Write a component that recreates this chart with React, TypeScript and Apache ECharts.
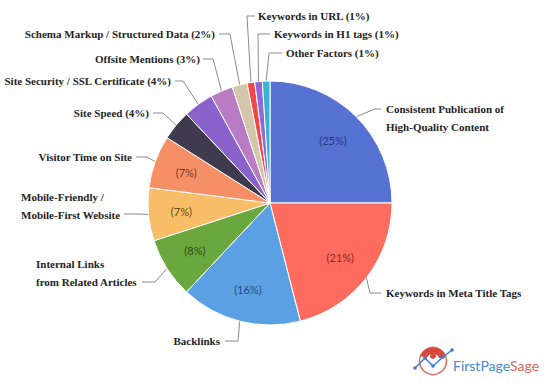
import React, { useEffect, useRef } from "react";
import * as echarts from "echarts";

const categories = [
  "Consistent Publication of\nHigh-Quality Content",
  "Keywords in Meta Title Tags",
  "Backlinks",
  "Internal Links\nfrom Related Articles",
  "Mobile-Friendly /\nMobile-First Website",
  "Visitor Time on Site",
  "Site Speed (4%)",
  "Site Security / SSL Certificate (4%)",
  "Offsite Mentions (3%)",
  "Schema Markup / Structured Data (2%)",
  "Keywords in URL (1%)",
  "Keywords in H1 tags (1%)",
  "Other Factors (1%)",
];
const values = [25, 21, 16, 8, 7, 7, 4, 4, 3, 2, 1, 1, 1];
const innerLabels = ["(25%)", "(21%)", "(16%)", "(8%)", "(7%)", "(7%)", "", "", "", "", "", "", ""];

const sliceColors = [
  "#5672d2", "#fe6b5f", "#5aa0e3", "#6aa83f", "#f8bd67", "#f68f66", "#3f3a4d",
  "#8a62cc", "#b77cc3", "#d3c6ab", "#f04645", "#8f6ad6", "#3ab2d1",
];
const innerTextColors = ["#23387f", "#8b2a22", "#1f4e85", "#2e4b12", "#6b4a17", "#7a3a20"];

// label layout: text anchor, alignment, leader elbow & end
const labelPos: { x: number; y: number; align: string; elbow: number[]; end: number[] }[] = [
  { x: 386, y: 118, align: "left", elbow: [375, 109], end: [381, 109] },
  { x: 386, y: 293, align: "left", elbow: [370, 293], end: [381, 293] },
  { x: 220, y: 341, align: "right", elbow: [238, 341], end: [225, 341] },
  { x: 36, y: 273, align: "left", elbow: [155, 282], end: [142, 282] },
  { x: 21, y: 206, align: "left", elbow: [140, 214], end: [124, 214] },
  { x: 132, y: 157, align: "right", elbow: [147, 157], end: [136, 157] },
  { x: 149, y: 113, align: "right", elbow: [163, 113], end: [153, 113] },
  { x: 171, y: 81, align: "right", elbow: [183, 81], end: [175, 81] },
  { x: 200, y: 59, align: "right", elbow: [213, 59], end: [203, 59] },
  { x: 215, y: 34, align: "right", elbow: [230, 34], end: [219, 34] },
  { x: 258, y: 16, align: "left", elbow: [247, 16], end: [255, 16] },
  { x: 274, y: 34, align: "left", elbow: [258, 34], end: [270, 34] },
  { x: 286, y: 53, align: "left", elbow: [269, 53], end: [282, 53] },
];

export default function App() {
  const ref = useRef<HTMLDivElement>(null);
  useEffect(() => {
    if (!ref.current) return;
    const chart = echarts.init(ref.current, null, { renderer: "svg" });
    const center = [270, 203];
    const R = 122;
    chart.setOption({
      animation: false,
      backgroundColor: "#ffffff",
      series: [
        {
          type: "pie",
          center,
          radius: [0, R],
          startAngle: 90,
          clockwise: true,
          silent: true,
          itemStyle: { borderColor: "#ffffff", borderWidth: 1 },
          label: {
            show: true,
            position: "outside",
            overflow: "none",
            fontFamily: "Liberation Serif",
            fontWeight: "bold",
            fontSize: 11,
            color: "#242424",
            lineHeight: 18,
          },
          labelLine: { show: true, lineStyle: { color: "#8a8a8a", width: 1 } },
          labelLayout: (params: any) => {
            const p = labelPos[params.dataIndex];
            const pts = params.labelLinePoints;
            const start = pts ? pts[0] : p.elbow;
            return {
              x: p.x,
              y: p.y,
              align: p.align,
              verticalAlign: "middle",
              labelLinePoints: [start, p.elbow, p.end],
            };
          },
          data: categories.map((name, i) => ({
            name,
            value: values[i],
            itemStyle: { color: sliceColors[i] },
          })),
        },
        {
          type: "pie",
          center,
          radius: [50, R],
          startAngle: 90,
          clockwise: true,
          silent: true,
          itemStyle: { color: "rgba(0,0,0,0)", borderWidth: 0 },
          label: {
            show: true,
            position: "inside",
            fontFamily: "Lato",
            fontSize: 11,
            formatter: (p: any) => innerLabels[p.dataIndex],
          },
          labelLine: { show: false },
          data: values.map((v, i) => ({
            name: categories[i],
            value: v,
            label: { color: innerTextColors[i] || "#333" },
          })),
        },
      ],
      graphic: [
        { type: "circle", shape: { cx: 433, cy: 361, r: 13.5 }, style: { fill: "none", stroke: "#e06c5c", lineWidth: 1.5 } },
        { type: "sector", shape: { cx: 433, cy: 361, r: 13.5, r0: 7, startAngle: Math.PI * 1.12, endAngle: Math.PI * 1.88 }, style: { fill: "#d8473b" } },
        { type: "circle", shape: { cx: 433, cy: 356, r: 3 }, style: { fill: "#d8473b" } },
        {
          type: "polyline",
          shape: { points: [[415, 368], [425, 358], [433, 366], [443, 357], [452, 350]] },
          style: { stroke: "#3f7fd8", lineWidth: 1.5, fill: "none" },
        },
        { type: "circle", shape: { cx: 415, cy: 368, r: 1.8 }, style: { fill: "#3f7fd8" } },
        { type: "circle", shape: { cx: 425, cy: 358, r: 1.8 }, style: { fill: "#3f7fd8" } },
        { type: "circle", shape: { cx: 433, cy: 366, r: 1.8 }, style: { fill: "#3f7fd8" } },
        { type: "circle", shape: { cx: 443, cy: 357, r: 1.8 }, style: { fill: "#3f7fd8" } },
        { type: "circle", shape: { cx: 452, cy: 350, r: 1.8 }, style: { fill: "#3f7fd8" } },
        {
          type: "text",
          x: 453,
          y: 365,
          style: {
            text: "{a|FirstPage}{b|Sage}",
            verticalAlign: "middle",
            rich: {
              a: { fill: "#4a86d6", fontFamily: "Lato", fontSize: 14 },
              b: { fill: "#e0675a", fontFamily: "Lato", fontSize: 14 },
            },
          },
        },
      ],
    });
    return () => chart.dispose();
  }, []);
  return (
    <div
      ref={ref}
      style={{ position: "fixed", left: 0, top: 0, width: 558, height: 388 }}
    />
  );
}
